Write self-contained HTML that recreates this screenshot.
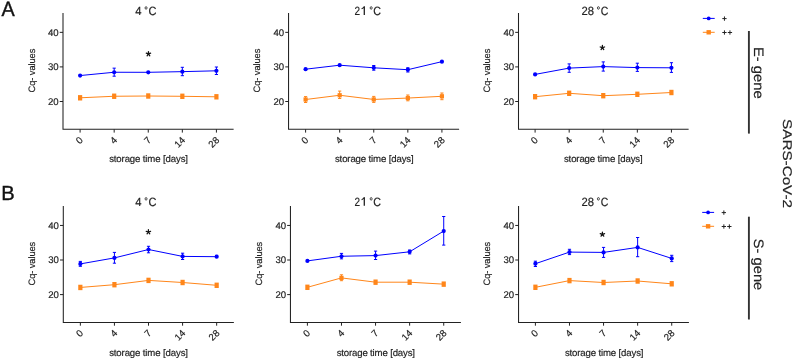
<!DOCTYPE html>
<html><head><meta charset="utf-8"><style>
html,body{margin:0;padding:0;background:#fff;width:793px;height:359px;overflow:hidden}
svg{display:block;will-change:transform}
text{font-family:"Liberation Sans", sans-serif;text-rendering:geometricPrecision;stroke:currentColor;stroke-width:0.18px}
</style></head><body>
<svg width="793" height="359" viewBox="0 0 793 359">
<rect width="793" height="359" fill="#fff"/>
<path d="M63.00 12.90V129.30H233.62" fill="none" stroke="#222" stroke-width="1.05"/>
<path d="M59.70 32.35H63.00" stroke="#222" stroke-width="1.0"/>
<text x="58.60" y="35.55" text-anchor="end" font-size="9.6" fill="#1e1e1e" color="#1e1e1e">40</text>
<path d="M59.70 66.90H63.00" stroke="#222" stroke-width="1.0"/>
<text x="58.60" y="70.10" text-anchor="end" font-size="9.6" fill="#1e1e1e" color="#1e1e1e">30</text>
<path d="M59.70 101.50H63.00" stroke="#222" stroke-width="1.0"/>
<text x="58.60" y="104.70" text-anchor="end" font-size="9.6" fill="#1e1e1e" color="#1e1e1e">20</text>
<path d="M80.10 129.30V132.60" stroke="#222" stroke-width="1.0"/>
<text transform="translate(83.60 140.70) rotate(-45)" text-anchor="end" font-size="9.6" fill="#1e1e1e" color="#1e1e1e">0</text>
<path d="M114.18 129.30V132.60" stroke="#222" stroke-width="1.0"/>
<text transform="translate(117.68 140.70) rotate(-45)" text-anchor="end" font-size="9.6" fill="#1e1e1e" color="#1e1e1e">4</text>
<path d="M148.26 129.30V132.60" stroke="#222" stroke-width="1.0"/>
<text transform="translate(151.76 140.70) rotate(-45)" text-anchor="end" font-size="9.6" fill="#1e1e1e" color="#1e1e1e">7</text>
<path d="M182.34 129.30V132.60" stroke="#222" stroke-width="1.0"/>
<text transform="translate(185.84 140.70) rotate(-45)" text-anchor="end" font-size="9.6" fill="#1e1e1e" color="#1e1e1e">14</text>
<path d="M216.42 129.30V132.60" stroke="#222" stroke-width="1.0"/>
<text transform="translate(219.92 140.70) rotate(-45)" text-anchor="end" font-size="9.6" fill="#1e1e1e" color="#1e1e1e">28</text>
<text x="109.13" y="161.80" font-size="9.60" fill="#1e1e1e" color="#1e1e1e" textLength="78.85" lengthAdjust="spacing">storage time [days]</text>
<text transform="translate(34.76 92.38) rotate(-90)" font-size="9.32" fill="#1e1e1e" color="#1e1e1e" textLength="43.71" lengthAdjust="spacing">Cq- values</text>
<text x="135.14" y="14.90" font-size="12.00" fill="#222" color="#222" textLength="6.29" lengthAdjust="spacingAndGlyphs">4</text>
<ellipse cx="146.05" cy="7.95" rx="1.0" ry="1.3" fill="none" stroke="#222" stroke-width="0.8"/>
<text x="148.44" y="14.90" font-size="12.00" fill="#222" color="#222" textLength="7.99" lengthAdjust="spacingAndGlyphs">C</text>
<polyline points="80.10,97.80 114.18,96.25 148.26,96.00 182.34,96.30 216.42,96.80" fill="none" stroke="#ff861a" stroke-width="1.0"/>
<rect x="78.00" y="95.10" width="4.2" height="5.4" fill="#ff861a"/>
<rect x="112.08" y="93.55" width="4.2" height="5.4" fill="#ff861a"/>
<rect x="146.16" y="93.30" width="4.2" height="5.4" fill="#ff861a"/>
<rect x="180.24" y="93.60" width="4.2" height="5.4" fill="#ff861a"/>
<rect x="214.32" y="94.10" width="4.2" height="5.4" fill="#ff861a"/>
<polyline points="80.10,75.55 114.18,72.25 148.26,72.30 182.34,71.65 216.42,70.80" fill="none" stroke="#0000ff" stroke-width="1.0"/>
<circle cx="80.10" cy="75.55" r="2.1" fill="#0000ff"/>
<path d="M114.18 68.15V76.20M112.58 68.15H115.78M112.58 76.20H115.78" stroke="#0000ff" stroke-width="1.0"/>
<circle cx="114.18" cy="72.25" r="2.1" fill="#0000ff"/>
<circle cx="148.26" cy="72.30" r="2.1" fill="#0000ff"/>
<path d="M182.34 67.30V75.70M180.74 67.30H183.94M180.74 75.70H183.94" stroke="#0000ff" stroke-width="1.0"/>
<circle cx="182.34" cy="71.65" r="2.1" fill="#0000ff"/>
<path d="M216.42 67.00V74.50M214.82 67.00H218.02M214.82 74.50H218.02" stroke="#0000ff" stroke-width="1.0"/>
<circle cx="216.42" cy="70.80" r="2.1" fill="#0000ff"/>
<path d="M148.45 53.90L148.45 51.60M148.45 53.90L150.64 53.19M148.45 53.90L149.80 55.76M148.45 53.90L147.10 55.76M148.45 53.90L146.26 53.19" stroke="#111" stroke-width="1.25" stroke-linecap="round"/>
<path d="M288.55 12.90V129.30H459.12" fill="none" stroke="#222" stroke-width="1.05"/>
<path d="M285.25 32.35H288.55" stroke="#222" stroke-width="1.0"/>
<text x="284.15" y="35.55" text-anchor="end" font-size="9.6" fill="#1e1e1e" color="#1e1e1e">40</text>
<path d="M285.25 66.90H288.55" stroke="#222" stroke-width="1.0"/>
<text x="284.15" y="70.10" text-anchor="end" font-size="9.6" fill="#1e1e1e" color="#1e1e1e">30</text>
<path d="M285.25 101.50H288.55" stroke="#222" stroke-width="1.0"/>
<text x="284.15" y="104.70" text-anchor="end" font-size="9.6" fill="#1e1e1e" color="#1e1e1e">20</text>
<path d="M305.60 129.30V132.60" stroke="#222" stroke-width="1.0"/>
<text transform="translate(309.10 140.70) rotate(-45)" text-anchor="end" font-size="9.6" fill="#1e1e1e" color="#1e1e1e">0</text>
<path d="M339.68 129.30V132.60" stroke="#222" stroke-width="1.0"/>
<text transform="translate(343.18 140.70) rotate(-45)" text-anchor="end" font-size="9.6" fill="#1e1e1e" color="#1e1e1e">4</text>
<path d="M373.76 129.30V132.60" stroke="#222" stroke-width="1.0"/>
<text transform="translate(377.26 140.70) rotate(-45)" text-anchor="end" font-size="9.6" fill="#1e1e1e" color="#1e1e1e">7</text>
<path d="M407.84 129.30V132.60" stroke="#222" stroke-width="1.0"/>
<text transform="translate(411.34 140.70) rotate(-45)" text-anchor="end" font-size="9.6" fill="#1e1e1e" color="#1e1e1e">14</text>
<path d="M441.92 129.30V132.60" stroke="#222" stroke-width="1.0"/>
<text transform="translate(445.42 140.70) rotate(-45)" text-anchor="end" font-size="9.6" fill="#1e1e1e" color="#1e1e1e">28</text>
<text x="334.93" y="161.80" font-size="9.60" fill="#1e1e1e" color="#1e1e1e" textLength="78.75" lengthAdjust="spacing">storage time [days]</text>
<text transform="translate(260.31 92.38) rotate(-90)" font-size="9.32" fill="#1e1e1e" color="#1e1e1e" textLength="43.71" lengthAdjust="spacing">Cq- values</text>
<text x="354.40" y="14.90" font-size="12.00" fill="#222" color="#222" textLength="5.55" lengthAdjust="spacingAndGlyphs">2</text>
<path d="M364.3 6.55V14.90" stroke="#222" stroke-width="1.3"/>
<path d="M364.5 6.45Q363.6 8.00 361.6 8.85" fill="none" stroke="#222" stroke-width="1.05"/>
<ellipse cx="371.17" cy="7.95" rx="1.0" ry="1.3" fill="none" stroke="#222" stroke-width="0.8"/>
<text x="373.35" y="14.90" font-size="12.00" fill="#222" color="#222" textLength="7.76" lengthAdjust="spacingAndGlyphs">C</text>
<polyline points="305.60,99.50 339.68,95.25 373.76,99.45 407.84,98.05 441.92,96.30" fill="none" stroke="#ff861a" stroke-width="1.0"/>
<path d="M305.60 96.60V102.50M304.00 96.60H307.20M304.00 102.50H307.20" stroke="#ff861a" stroke-width="1.0"/>
<rect x="303.50" y="97.40" width="4.2" height="4.2" fill="#ff861a"/>
<path d="M339.68 91.10V98.50M338.08 91.10H341.28M338.08 98.50H341.28" stroke="#ff861a" stroke-width="1.0"/>
<rect x="337.58" y="93.15" width="4.2" height="4.2" fill="#ff861a"/>
<path d="M373.76 96.40V102.40M372.16 96.40H375.36M372.16 102.40H375.36" stroke="#ff861a" stroke-width="1.0"/>
<rect x="371.66" y="97.35" width="4.2" height="4.2" fill="#ff861a"/>
<path d="M407.84 95.00V100.80M406.24 95.00H409.44M406.24 100.80H409.44" stroke="#ff861a" stroke-width="1.0"/>
<rect x="405.74" y="95.95" width="4.2" height="4.2" fill="#ff861a"/>
<path d="M441.92 93.00V99.70M440.32 93.00H443.52M440.32 99.70H443.52" stroke="#ff861a" stroke-width="1.0"/>
<rect x="439.82" y="94.20" width="4.2" height="4.2" fill="#ff861a"/>
<polyline points="305.60,69.20 339.68,65.20 373.76,67.80 407.84,69.70 441.92,61.65" fill="none" stroke="#0000ff" stroke-width="1.0"/>
<circle cx="305.60" cy="69.20" r="2.1" fill="#0000ff"/>
<circle cx="339.68" cy="65.20" r="2.1" fill="#0000ff"/>
<path d="M373.76 65.50V70.20M372.16 65.50H375.36M372.16 70.20H375.36" stroke="#0000ff" stroke-width="1.0"/>
<circle cx="373.76" cy="67.80" r="2.1" fill="#0000ff"/>
<path d="M407.84 67.80V72.00M406.24 67.80H409.44M406.24 72.00H409.44" stroke="#0000ff" stroke-width="1.0"/>
<circle cx="407.84" cy="69.70" r="2.1" fill="#0000ff"/>
<circle cx="441.92" cy="61.65" r="2.1" fill="#0000ff"/>
<path d="M518.50 12.90V129.30H688.62" fill="none" stroke="#222" stroke-width="1.05"/>
<path d="M515.20 32.35H518.50" stroke="#222" stroke-width="1.0"/>
<text x="514.10" y="35.55" text-anchor="end" font-size="9.6" fill="#1e1e1e" color="#1e1e1e">40</text>
<path d="M515.20 66.90H518.50" stroke="#222" stroke-width="1.0"/>
<text x="514.10" y="70.10" text-anchor="end" font-size="9.6" fill="#1e1e1e" color="#1e1e1e">30</text>
<path d="M515.20 101.50H518.50" stroke="#222" stroke-width="1.0"/>
<text x="514.10" y="104.70" text-anchor="end" font-size="9.6" fill="#1e1e1e" color="#1e1e1e">20</text>
<path d="M535.10 129.30V132.60" stroke="#222" stroke-width="1.0"/>
<text transform="translate(538.60 140.70) rotate(-45)" text-anchor="end" font-size="9.6" fill="#1e1e1e" color="#1e1e1e">0</text>
<path d="M569.18 129.30V132.60" stroke="#222" stroke-width="1.0"/>
<text transform="translate(572.68 140.70) rotate(-45)" text-anchor="end" font-size="9.6" fill="#1e1e1e" color="#1e1e1e">4</text>
<path d="M603.26 129.30V132.60" stroke="#222" stroke-width="1.0"/>
<text transform="translate(606.76 140.70) rotate(-45)" text-anchor="end" font-size="9.6" fill="#1e1e1e" color="#1e1e1e">7</text>
<path d="M637.34 129.30V132.60" stroke="#222" stroke-width="1.0"/>
<text transform="translate(640.84 140.70) rotate(-45)" text-anchor="end" font-size="9.6" fill="#1e1e1e" color="#1e1e1e">14</text>
<path d="M671.42 129.30V132.60" stroke="#222" stroke-width="1.0"/>
<text transform="translate(674.92 140.70) rotate(-45)" text-anchor="end" font-size="9.6" fill="#1e1e1e" color="#1e1e1e">28</text>
<text x="563.93" y="161.80" font-size="9.60" fill="#1e1e1e" color="#1e1e1e" textLength="78.75" lengthAdjust="spacing">storage time [days]</text>
<text transform="translate(490.26 92.38) rotate(-90)" font-size="9.32" fill="#1e1e1e" color="#1e1e1e" textLength="43.71" lengthAdjust="spacing">Cq- values</text>
<text x="581.54" y="14.90" font-size="12.00" fill="#222" color="#222" textLength="12.55" lengthAdjust="spacingAndGlyphs">28</text>
<ellipse cx="598.40" cy="7.95" rx="1.0" ry="1.3" fill="none" stroke="#222" stroke-width="0.8"/>
<text x="600.86" y="14.90" font-size="12.00" fill="#222" color="#222" textLength="7.59" lengthAdjust="spacingAndGlyphs">C</text>
<polyline points="535.10,96.70 569.18,93.30 603.26,95.70 637.34,94.30 671.42,92.50" fill="none" stroke="#ff861a" stroke-width="1.0"/>
<rect x="533.00" y="94.00" width="4.2" height="5.4" fill="#ff861a"/>
<rect x="567.08" y="90.60" width="4.2" height="5.4" fill="#ff861a"/>
<rect x="601.16" y="93.00" width="4.2" height="5.4" fill="#ff861a"/>
<rect x="635.24" y="91.60" width="4.2" height="5.4" fill="#ff861a"/>
<rect x="669.32" y="89.80" width="4.2" height="5.4" fill="#ff861a"/>
<polyline points="535.10,74.40 569.18,68.10 603.26,66.60 637.34,67.60 671.42,67.80" fill="none" stroke="#0000ff" stroke-width="1.0"/>
<circle cx="535.10" cy="74.40" r="2.1" fill="#0000ff"/>
<path d="M569.18 63.90V72.30M567.58 63.90H570.78M567.58 72.30H570.78" stroke="#0000ff" stroke-width="1.0"/>
<circle cx="569.18" cy="68.10" r="2.1" fill="#0000ff"/>
<path d="M603.26 61.90V71.10M601.66 61.90H604.86M601.66 71.10H604.86" stroke="#0000ff" stroke-width="1.0"/>
<circle cx="603.26" cy="66.60" r="2.1" fill="#0000ff"/>
<path d="M637.34 63.20V71.40M635.74 63.20H638.94M635.74 71.40H638.94" stroke="#0000ff" stroke-width="1.0"/>
<circle cx="637.34" cy="67.60" r="2.1" fill="#0000ff"/>
<path d="M671.42 62.70V72.40M669.82 62.70H673.02M669.82 72.40H673.02" stroke="#0000ff" stroke-width="1.0"/>
<circle cx="671.42" cy="67.80" r="2.1" fill="#0000ff"/>
<path d="M602.40 47.70L602.40 45.40M602.40 47.70L604.59 46.99M602.40 47.70L603.75 49.56M602.40 47.70L601.05 49.56M602.40 47.70L600.21 46.99" stroke="#111" stroke-width="1.25" stroke-linecap="round"/>
<path d="M63.30 206.00V322.40H233.87" fill="none" stroke="#222" stroke-width="1.05"/>
<path d="M60.00 225.45H63.30" stroke="#222" stroke-width="1.0"/>
<text x="58.90" y="228.65" text-anchor="end" font-size="9.6" fill="#1e1e1e" color="#1e1e1e">40</text>
<path d="M60.00 260.00H63.30" stroke="#222" stroke-width="1.0"/>
<text x="58.90" y="263.20" text-anchor="end" font-size="9.6" fill="#1e1e1e" color="#1e1e1e">30</text>
<path d="M60.00 294.60H63.30" stroke="#222" stroke-width="1.0"/>
<text x="58.90" y="297.80" text-anchor="end" font-size="9.6" fill="#1e1e1e" color="#1e1e1e">20</text>
<path d="M80.35 322.40V325.70" stroke="#222" stroke-width="1.0"/>
<text transform="translate(83.85 333.80) rotate(-45)" text-anchor="end" font-size="9.6" fill="#1e1e1e" color="#1e1e1e">0</text>
<path d="M114.43 322.40V325.70" stroke="#222" stroke-width="1.0"/>
<text transform="translate(117.93 333.80) rotate(-45)" text-anchor="end" font-size="9.6" fill="#1e1e1e" color="#1e1e1e">4</text>
<path d="M148.51 322.40V325.70" stroke="#222" stroke-width="1.0"/>
<text transform="translate(152.01 333.80) rotate(-45)" text-anchor="end" font-size="9.6" fill="#1e1e1e" color="#1e1e1e">7</text>
<path d="M182.59 322.40V325.70" stroke="#222" stroke-width="1.0"/>
<text transform="translate(186.09 333.80) rotate(-45)" text-anchor="end" font-size="9.6" fill="#1e1e1e" color="#1e1e1e">14</text>
<path d="M216.67 322.40V325.70" stroke="#222" stroke-width="1.0"/>
<text transform="translate(220.17 333.80) rotate(-45)" text-anchor="end" font-size="9.6" fill="#1e1e1e" color="#1e1e1e">28</text>
<text x="109.13" y="355.50" font-size="9.60" fill="#1e1e1e" color="#1e1e1e" textLength="78.85" lengthAdjust="spacing">storage time [days]</text>
<text transform="translate(35.06 285.48) rotate(-90)" font-size="9.32" fill="#1e1e1e" color="#1e1e1e" textLength="43.71" lengthAdjust="spacing">Cq- values</text>
<text x="135.14" y="205.80" font-size="12.00" fill="#222" color="#222" textLength="6.29" lengthAdjust="spacingAndGlyphs">4</text>
<ellipse cx="146.05" cy="198.85" rx="1.0" ry="1.3" fill="none" stroke="#222" stroke-width="0.8"/>
<text x="148.44" y="205.80" font-size="12.00" fill="#222" color="#222" textLength="7.99" lengthAdjust="spacingAndGlyphs">C</text>
<polyline points="80.35,287.45 114.43,284.70 148.51,280.40 182.59,282.50 216.67,285.30" fill="none" stroke="#ff861a" stroke-width="1.0"/>
<rect x="78.25" y="284.75" width="4.2" height="5.4" fill="#ff861a"/>
<rect x="112.33" y="282.00" width="4.2" height="5.4" fill="#ff861a"/>
<rect x="146.41" y="277.70" width="4.2" height="5.4" fill="#ff861a"/>
<rect x="180.49" y="279.80" width="4.2" height="5.4" fill="#ff861a"/>
<rect x="214.57" y="282.60" width="4.2" height="5.4" fill="#ff861a"/>
<polyline points="80.35,263.90 114.43,257.90 148.51,249.50 182.59,256.40 216.67,256.70" fill="none" stroke="#0000ff" stroke-width="1.0"/>
<path d="M80.35 261.40V266.30M78.75 261.40H81.95M78.75 266.30H81.95" stroke="#0000ff" stroke-width="1.0"/>
<circle cx="80.35" cy="263.90" r="2.1" fill="#0000ff"/>
<path d="M114.43 252.40V263.20M112.83 252.40H116.03M112.83 263.20H116.03" stroke="#0000ff" stroke-width="1.0"/>
<circle cx="114.43" cy="257.90" r="2.1" fill="#0000ff"/>
<path d="M148.51 246.30V252.80M146.91 246.30H150.11M146.91 252.80H150.11" stroke="#0000ff" stroke-width="1.0"/>
<circle cx="148.51" cy="249.50" r="2.1" fill="#0000ff"/>
<path d="M182.59 253.20V259.50M180.99 253.20H184.19M180.99 259.50H184.19" stroke="#0000ff" stroke-width="1.0"/>
<circle cx="182.59" cy="256.40" r="2.1" fill="#0000ff"/>
<circle cx="216.67" cy="256.70" r="2.1" fill="#0000ff"/>
<path d="M148.40 232.00L148.40 229.70M148.40 232.00L150.59 231.29M148.40 232.00L149.75 233.86M148.40 232.00L147.05 233.86M148.40 232.00L146.21 231.29" stroke="#111" stroke-width="1.25" stroke-linecap="round"/>
<path d="M290.45 206.00V322.40H460.92" fill="none" stroke="#222" stroke-width="1.05"/>
<path d="M287.15 225.45H290.45" stroke="#222" stroke-width="1.0"/>
<text x="286.05" y="228.65" text-anchor="end" font-size="9.6" fill="#1e1e1e" color="#1e1e1e">40</text>
<path d="M287.15 260.00H290.45" stroke="#222" stroke-width="1.0"/>
<text x="286.05" y="263.20" text-anchor="end" font-size="9.6" fill="#1e1e1e" color="#1e1e1e">30</text>
<path d="M287.15 294.60H290.45" stroke="#222" stroke-width="1.0"/>
<text x="286.05" y="297.80" text-anchor="end" font-size="9.6" fill="#1e1e1e" color="#1e1e1e">20</text>
<path d="M307.40 322.40V325.70" stroke="#222" stroke-width="1.0"/>
<text transform="translate(310.90 333.80) rotate(-45)" text-anchor="end" font-size="9.6" fill="#1e1e1e" color="#1e1e1e">0</text>
<path d="M341.48 322.40V325.70" stroke="#222" stroke-width="1.0"/>
<text transform="translate(344.98 333.80) rotate(-45)" text-anchor="end" font-size="9.6" fill="#1e1e1e" color="#1e1e1e">4</text>
<path d="M375.56 322.40V325.70" stroke="#222" stroke-width="1.0"/>
<text transform="translate(379.06 333.80) rotate(-45)" text-anchor="end" font-size="9.6" fill="#1e1e1e" color="#1e1e1e">7</text>
<path d="M409.64 322.40V325.70" stroke="#222" stroke-width="1.0"/>
<text transform="translate(413.14 333.80) rotate(-45)" text-anchor="end" font-size="9.6" fill="#1e1e1e" color="#1e1e1e">14</text>
<path d="M443.72 322.40V325.70" stroke="#222" stroke-width="1.0"/>
<text transform="translate(447.22 333.80) rotate(-45)" text-anchor="end" font-size="9.6" fill="#1e1e1e" color="#1e1e1e">28</text>
<text x="336.63" y="355.50" font-size="9.60" fill="#1e1e1e" color="#1e1e1e" textLength="78.35" lengthAdjust="spacing">storage time [days]</text>
<text transform="translate(262.21 285.48) rotate(-90)" font-size="9.32" fill="#1e1e1e" color="#1e1e1e" textLength="43.71" lengthAdjust="spacing">Cq- values</text>
<text x="354.40" y="205.80" font-size="12.00" fill="#222" color="#222" textLength="5.55" lengthAdjust="spacingAndGlyphs">2</text>
<path d="M364.3 197.45V205.80" stroke="#222" stroke-width="1.3"/>
<path d="M364.5 197.35Q363.6 198.90 361.6 199.75" fill="none" stroke="#222" stroke-width="1.05"/>
<ellipse cx="371.17" cy="198.85" rx="1.0" ry="1.3" fill="none" stroke="#222" stroke-width="0.8"/>
<text x="373.35" y="205.80" font-size="12.00" fill="#222" color="#222" textLength="7.76" lengthAdjust="spacingAndGlyphs">C</text>
<polyline points="307.40,287.30 341.48,277.90 375.56,282.20 409.64,282.20 443.72,284.15" fill="none" stroke="#ff861a" stroke-width="1.0"/>
<rect x="305.30" y="284.60" width="4.2" height="5.4" fill="#ff861a"/>
<path d="M341.48 274.80V280.70M339.88 274.80H343.08M339.88 280.70H343.08" stroke="#ff861a" stroke-width="1.0"/>
<rect x="339.38" y="275.80" width="4.2" height="4.2" fill="#ff861a"/>
<rect x="373.46" y="279.50" width="4.2" height="5.4" fill="#ff861a"/>
<rect x="407.54" y="279.50" width="4.2" height="5.4" fill="#ff861a"/>
<rect x="441.62" y="281.45" width="4.2" height="5.4" fill="#ff861a"/>
<polyline points="307.40,260.90 341.48,256.25 375.56,255.60 409.64,251.80 443.72,231.05" fill="none" stroke="#0000ff" stroke-width="1.0"/>
<circle cx="307.40" cy="260.90" r="2.1" fill="#0000ff"/>
<path d="M341.48 253.40V258.85M339.88 253.40H343.08M339.88 258.85H343.08" stroke="#0000ff" stroke-width="1.0"/>
<circle cx="341.48" cy="256.25" r="2.1" fill="#0000ff"/>
<path d="M375.56 251.10V259.50M373.96 251.10H377.16M373.96 259.50H377.16" stroke="#0000ff" stroke-width="1.0"/>
<circle cx="375.56" cy="255.60" r="2.1" fill="#0000ff"/>
<path d="M409.64 250.00V253.90M408.04 250.00H411.24M408.04 253.90H411.24" stroke="#0000ff" stroke-width="1.0"/>
<circle cx="409.64" cy="251.80" r="2.1" fill="#0000ff"/>
<path d="M443.72 216.50V245.10M442.12 216.50H445.32M442.12 245.10H445.32" stroke="#0000ff" stroke-width="1.0"/>
<circle cx="443.72" cy="231.05" r="2.1" fill="#0000ff"/>
<path d="M518.55 206.00V322.40H688.92" fill="none" stroke="#222" stroke-width="1.05"/>
<path d="M515.25 225.45H518.55" stroke="#222" stroke-width="1.0"/>
<text x="514.15" y="228.65" text-anchor="end" font-size="9.6" fill="#1e1e1e" color="#1e1e1e">40</text>
<path d="M515.25 260.00H518.55" stroke="#222" stroke-width="1.0"/>
<text x="514.15" y="263.20" text-anchor="end" font-size="9.6" fill="#1e1e1e" color="#1e1e1e">30</text>
<path d="M515.25 294.60H518.55" stroke="#222" stroke-width="1.0"/>
<text x="514.15" y="297.80" text-anchor="end" font-size="9.6" fill="#1e1e1e" color="#1e1e1e">20</text>
<path d="M535.40 322.40V325.70" stroke="#222" stroke-width="1.0"/>
<text transform="translate(538.90 333.80) rotate(-45)" text-anchor="end" font-size="9.6" fill="#1e1e1e" color="#1e1e1e">0</text>
<path d="M569.48 322.40V325.70" stroke="#222" stroke-width="1.0"/>
<text transform="translate(572.98 333.80) rotate(-45)" text-anchor="end" font-size="9.6" fill="#1e1e1e" color="#1e1e1e">4</text>
<path d="M603.56 322.40V325.70" stroke="#222" stroke-width="1.0"/>
<text transform="translate(607.06 333.80) rotate(-45)" text-anchor="end" font-size="9.6" fill="#1e1e1e" color="#1e1e1e">7</text>
<path d="M637.64 322.40V325.70" stroke="#222" stroke-width="1.0"/>
<text transform="translate(641.14 333.80) rotate(-45)" text-anchor="end" font-size="9.6" fill="#1e1e1e" color="#1e1e1e">14</text>
<path d="M671.72 322.40V325.70" stroke="#222" stroke-width="1.0"/>
<text transform="translate(675.22 333.80) rotate(-45)" text-anchor="end" font-size="9.6" fill="#1e1e1e" color="#1e1e1e">28</text>
<text x="564.93" y="355.50" font-size="9.60" fill="#1e1e1e" color="#1e1e1e" textLength="78.55" lengthAdjust="spacing">storage time [days]</text>
<text transform="translate(490.31 285.48) rotate(-90)" font-size="9.32" fill="#1e1e1e" color="#1e1e1e" textLength="43.71" lengthAdjust="spacing">Cq- values</text>
<text x="581.54" y="205.80" font-size="12.00" fill="#222" color="#222" textLength="12.55" lengthAdjust="spacingAndGlyphs">28</text>
<ellipse cx="598.40" cy="198.85" rx="1.0" ry="1.3" fill="none" stroke="#222" stroke-width="0.8"/>
<text x="600.86" y="205.80" font-size="12.00" fill="#222" color="#222" textLength="7.59" lengthAdjust="spacingAndGlyphs">C</text>
<polyline points="535.40,287.30 569.48,280.60 603.56,282.50 637.64,281.00 671.72,283.80" fill="none" stroke="#ff861a" stroke-width="1.0"/>
<rect x="533.30" y="284.60" width="4.2" height="5.4" fill="#ff861a"/>
<rect x="567.38" y="277.90" width="4.2" height="5.4" fill="#ff861a"/>
<rect x="601.46" y="279.80" width="4.2" height="5.4" fill="#ff861a"/>
<rect x="635.54" y="278.30" width="4.2" height="5.4" fill="#ff861a"/>
<rect x="669.62" y="281.10" width="4.2" height="5.4" fill="#ff861a"/>
<polyline points="535.40,263.70 569.48,252.10 603.56,252.40 637.64,247.40 671.72,258.40" fill="none" stroke="#0000ff" stroke-width="1.0"/>
<path d="M535.40 261.20V266.50M533.80 261.20H537.00M533.80 266.50H537.00" stroke="#0000ff" stroke-width="1.0"/>
<circle cx="535.40" cy="263.70" r="2.1" fill="#0000ff"/>
<path d="M569.48 249.30V254.60M567.88 249.30H571.08M567.88 254.60H571.08" stroke="#0000ff" stroke-width="1.0"/>
<circle cx="569.48" cy="252.10" r="2.1" fill="#0000ff"/>
<path d="M603.56 247.40V257.40M601.96 247.40H605.16M601.96 257.40H605.16" stroke="#0000ff" stroke-width="1.0"/>
<circle cx="603.56" cy="252.40" r="2.1" fill="#0000ff"/>
<path d="M637.64 237.50V256.70M636.04 237.50H639.24M636.04 256.70H639.24" stroke="#0000ff" stroke-width="1.0"/>
<circle cx="637.64" cy="247.40" r="2.1" fill="#0000ff"/>
<path d="M671.72 255.30V261.60M670.12 255.30H673.32M670.12 261.60H673.32" stroke="#0000ff" stroke-width="1.0"/>
<circle cx="671.72" cy="258.40" r="2.1" fill="#0000ff"/>
<path d="M602.40 234.30L602.40 232.00M602.40 234.30L604.59 233.59M602.40 234.30L603.75 236.16M602.40 234.30L601.05 236.16M602.40 234.30L600.21 233.59" stroke="#111" stroke-width="1.25" stroke-linecap="round"/>
<text x="1.51" y="15.60" font-size="20.78" fill="#111" color="#111" textLength="13.23" lengthAdjust="spacingAndGlyphs" style="stroke-width:0.4px">A</text>
<text x="1.15" y="200.20" font-size="20.49" fill="#111" color="#111" textLength="13.42" lengthAdjust="spacingAndGlyphs" style="stroke-width:0.4px">B</text>
<path d="M702.80 18.40H714.70" stroke="#0000ff" stroke-width="1.0"/>
<circle cx="708.70" cy="18.40" r="1.9" fill="#0000ff"/>
<path d="M702.80 32.30H714.70" stroke="#ff861a" stroke-width="1.0"/>
<rect x="706.50" y="30.10" width="4.4" height="4.4" fill="#ff861a"/>
<path d="M722.30 18.60H726.60M724.45 16.45V20.75" stroke="#222" stroke-width="1.0"/>
<path d="M722.30 32.50H726.60M724.45 30.35V34.65" stroke="#222" stroke-width="1.0"/>
<path d="M727.80 32.50H732.10M729.95 30.35V34.65" stroke="#222" stroke-width="1.0"/>
<path d="M702.20 212.40H714.10" stroke="#0000ff" stroke-width="1.0"/>
<circle cx="708.10" cy="212.40" r="1.9" fill="#0000ff"/>
<path d="M702.20 226.30H714.10" stroke="#ff861a" stroke-width="1.0"/>
<rect x="705.90" y="224.10" width="4.4" height="4.4" fill="#ff861a"/>
<path d="M721.70 212.60H726.00M723.85 210.45V214.75" stroke="#222" stroke-width="1.0"/>
<path d="M721.70 226.50H726.00M723.85 224.35V228.65" stroke="#222" stroke-width="1.0"/>
<path d="M727.20 226.50H731.50M729.35 224.35V228.65" stroke="#222" stroke-width="1.0"/>
<path d="M748.9 31.0V133.6" stroke="#333" stroke-width="1.9"/>
<path d="M748.9 216.7V319.5" stroke="#333" stroke-width="1.9"/>
<text transform="translate(754.16 46.88) rotate(90)" font-size="13.73" fill="#222" color="#222" textLength="51.98" lengthAdjust="spacingAndGlyphs">E- gene</text>
<text transform="translate(754.15 238.82) rotate(90)" font-size="13.69" fill="#222" color="#222" textLength="51.43" lengthAdjust="spacingAndGlyphs">S- gene</text>
<text transform="translate(782.63 119.10) rotate(90)" font-size="12.64" fill="#222" color="#222" textLength="88.87" lengthAdjust="spacingAndGlyphs">SARS-CoV-2</text>
</svg>
</body></html>
